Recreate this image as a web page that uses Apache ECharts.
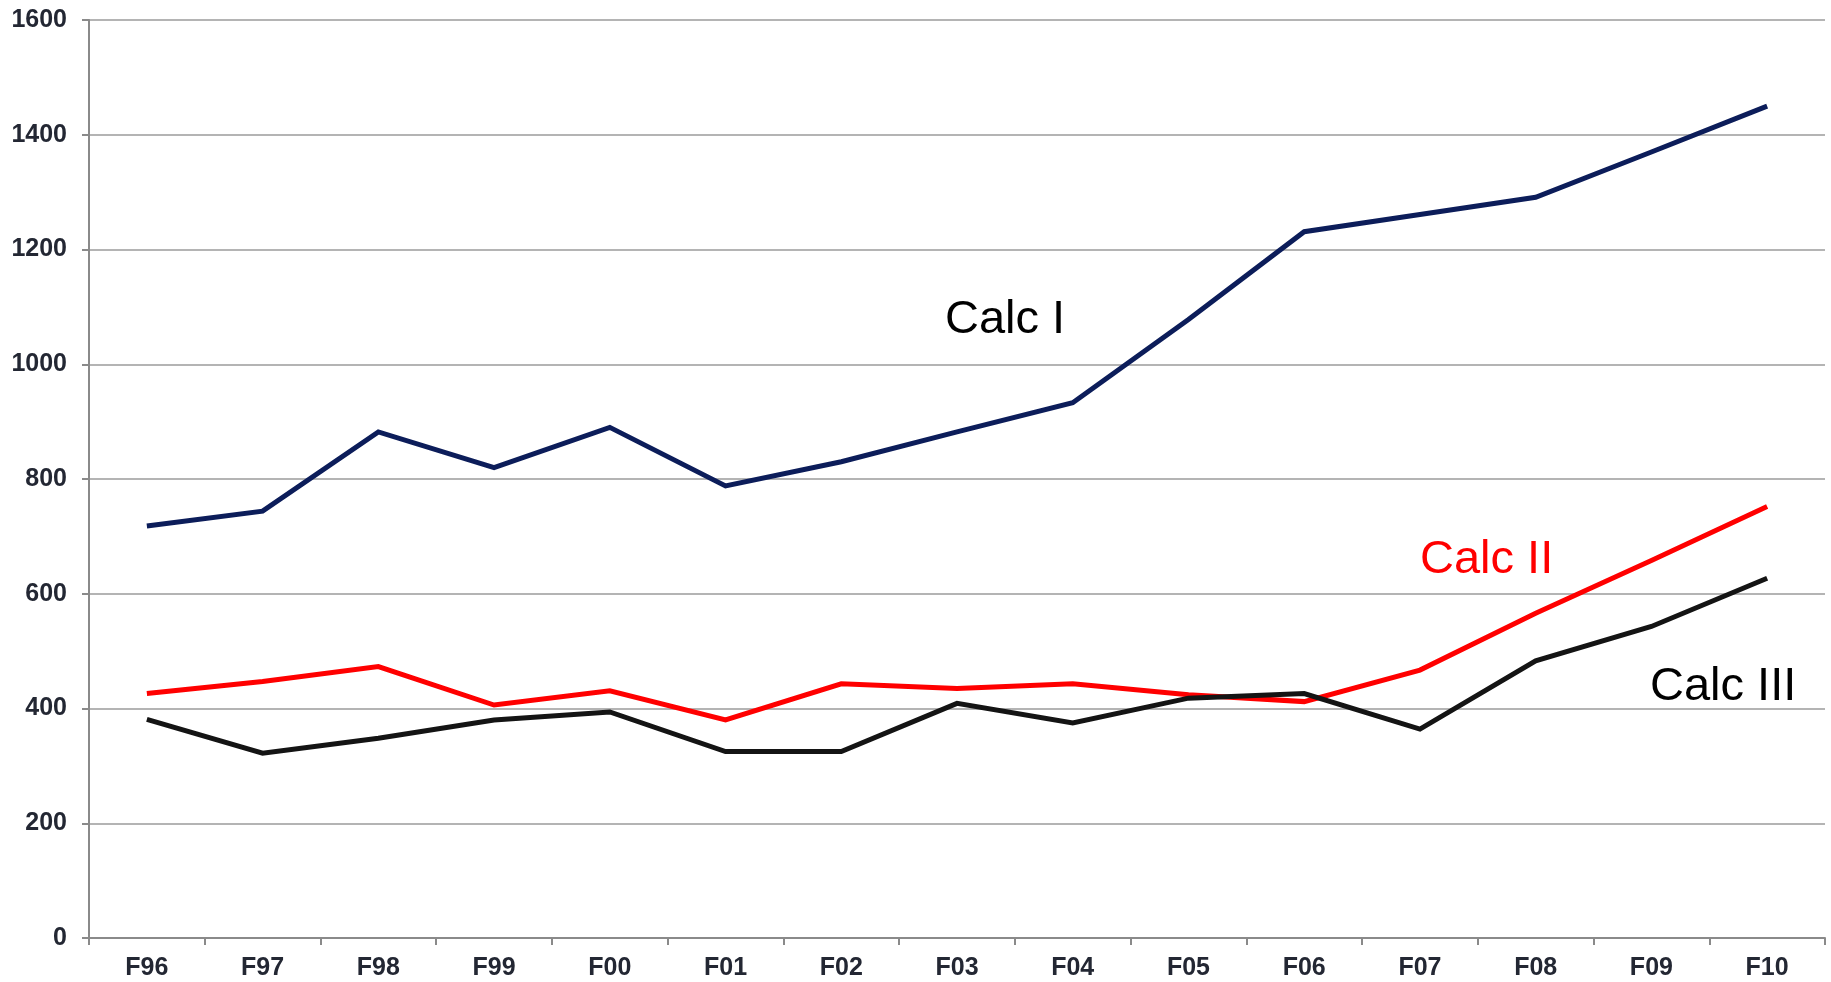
<!DOCTYPE html>
<html>
<head>
<meta charset="utf-8">
<title>Calc I / II / III</title>
<script src="https://cdn.jsdelivr.net/npm/echarts@6/dist/echarts.min.js"></script>
<style>
  html, body { margin: 0; padding: 0; background: #ffffff; }
  #chart { width: 1831px; height: 982px; }
</style>
</head>
<body>
<div id="chart"></div>
<script>
// Fiscal years on the category axis
const years = ['F96', 'F97', 'F98', 'F99', 'F00', 'F01', 'F02', 'F03', 'F04', 'F05', 'F06', 'F07', 'F08', 'F09', 'F10'];

// Yearly totals per course
const calcI   = [718, 744, 882, 820, 890, 788, 830, 882, 933, 1078, 1231, 1261, 1291, 1370, 1450];
const calcII  = [426, 447, 473, 406, 431, 380, 443, 435, 443, 424, 412, 467, 566, 658, 752];
const calcIII = [381, 322, 348, 380, 394, 325, 325, 409, 375, 418, 426, 364, 483, 543, 627];

// Value axis range
const yMin = 0;
const yMax = 1600;
const yStep = 200;

const chart = echarts.init(document.getElementById('chart'), null, { renderer: 'canvas' });

const labelFont = 'Liberation Sans, Arial, sans-serif';
const noteFont = '47px Liberation Sans, Arial, sans-serif';

function line(name, data, color) {
  return {
    name: name,
    type: 'line',
    data: data,
    symbol: 'none',
    smooth: false,
    lineStyle: { color: color, width: 5, join: 'miter' },
    itemStyle: { color: color },
    z: 3
  };
}

chart.setOption({
  animation: false,
  backgroundColor: '#ffffff',
  grid: { left: 89, right: 6, top: 20, bottom: 44, containLabel: false },
  xAxis: {
    type: 'category',
    data: years,
    boundaryGap: true,
    axisLine: { show: true, lineStyle: { color: '#8a8a8a', width: 2 } },
    axisTick: { show: true, alignWithLabel: false, length: 7, lineStyle: { color: '#8a8a8a', width: 2 } },
    axisLabel: { color: '#232733', fontSize: 25, fontWeight: 'bold', fontFamily: labelFont, margin: 18, interval: 0 },
    splitLine: { show: false }
  },
  yAxis: {
    type: 'value',
    min: yMin,
    max: yMax,
    interval: yStep,
    axisLine: { show: true, lineStyle: { color: '#8a8a8a', width: 2 } },
    axisTick: { show: true, length: 7, lineStyle: { color: '#8a8a8a', width: 2 } },
    axisLabel: {
      color: '#232733', fontSize: 25, fontWeight: 'bold', fontFamily: labelFont, margin: 22,
      padding: [0, 0, 4, 0],
      formatter: function (v) { return String(v); }
    },
    splitLine: { show: true, lineStyle: { color: '#b4b4b4', width: 2 } }
  },
  series: [
    line('Calc I', calcI, '#0c1d5a'),
    line('Calc II', calcII, '#ff0000'),
    line('Calc III', calcIII, '#141414')
  ],
  graphic: [
    { type: 'text', left: 945, top: 297, z: 10,
      style: { text: 'Calc I', fill: '#000000', font: noteFont } },
    { type: 'text', left: 1420, top: 537, z: 10,
      style: { text: 'Calc II', fill: '#ff0000', font: noteFont } },
    { type: 'text', left: 1650, top: 664, z: 10,
      style: { text: 'Calc III', fill: '#000000', font: noteFont } }
  ]
});
</script>
</body>
</html>
